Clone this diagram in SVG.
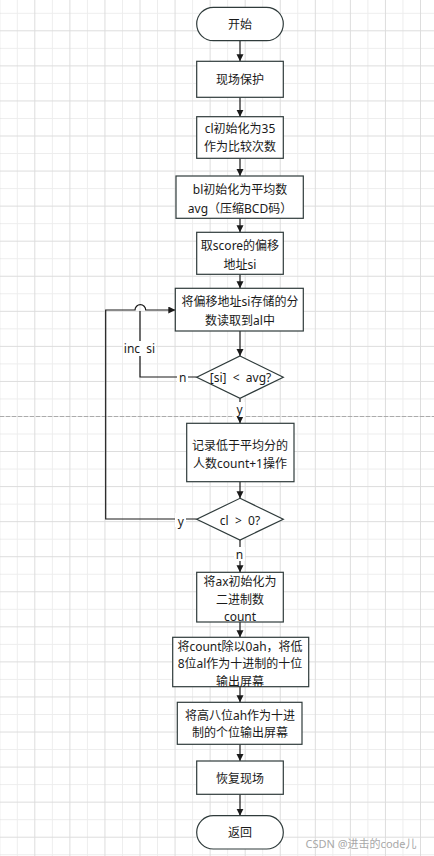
<svg xmlns="http://www.w3.org/2000/svg" width="434" height="856" viewBox="0 0 434 856">
<defs>
<pattern id="grid" patternUnits="userSpaceOnUse" x="16.8" y="12.8" width="35.06" height="35.06">
<path d="M0.5,0V35.06M0,0.5H35.06" stroke="#ededed" stroke-width="1" fill="none"/>
<path d="M18.03,0V35.06M0,18.03H35.06" stroke="#dcdcdc" stroke-width="1" fill="none"/>
</pattern>
<marker id="arr" markerUnits="userSpaceOnUse" markerWidth="10" markerHeight="10" refX="7" refY="3.5" orient="auto">
<path d="M0,0L7,3.5L0,7z" fill="#1a1a1a"/>
</marker>
<style>
.s{fill:#fff;stroke:#2f3b3b;stroke-width:1.2}
.t{font-family:"Noto Sans","Noto Sans CJK SC",sans-serif;font-size:12px;fill:#1a1a1a;text-anchor:middle;dominant-baseline:central;white-space:pre}
.c{fill:none;stroke:#1a1a1a;stroke-width:1.2}
.a{marker-end:url(#arr)}
.bg{fill:#fff}
</style>
</defs>
<rect width="434" height="856" fill="#fff"/>
<rect width="434" height="856" fill="url(#grid)"/>
<line x1="0" y1="416.5" x2="434" y2="416.5" stroke="#ababab" stroke-width="1" stroke-dasharray="4 2"/>

<g id="connectors">
<path class="c a" d="M240,40.7V61.3"/>
<path class="c a" d="M240,97.3V116.7"/>
<path class="c a" d="M240,158.3V176"/>
<path class="c a" d="M240,218.3V232.3"/>
<path class="c a" d="M240,274.3V288.3"/>
<path class="c a" d="M240,331V356"/>
<path class="c a" d="M240,398.3V423.3"/>
<path class="c a" d="M240,481.7V498.3"/>
<path class="c a" d="M240,540V572.3"/>
<path class="c a" d="M240,622V637.3"/>
<path class="c a" d="M240,686.7V702.3"/>
<path class="c a" d="M240,744.3V761"/>
<path class="c a" d="M240,794.3V815.7"/>
<path class="c" d="M196.7,377H140V311"/>
<path class="c a" d="M196.7,519H105.7V310H135A5.35,5.35 0 0 1 145.7,310H175.3"/>
<rect class="bg" x="123" y="341" width="33" height="15"/>
<text class="t" x="139.5" y="348">inc  si</text>
<rect class="bg" x="177" y="371" width="11" height="14"/>
<text class="t" x="182.7" y="377.5">n</text>
<rect class="bg" x="234" y="402" width="11" height="15"/>
<text class="t" x="239.5" y="409">y</text>
<rect class="bg" x="175" y="513" width="11" height="14"/>
<text class="t" x="180.7" y="521">y</text>
<rect class="bg" x="234" y="547" width="11" height="14"/>
<text class="t" x="239.5" y="554">n</text>
</g>

<g id="start"><rect class="s" x="196.7" y="7.3" width="86.6" height="33.4" rx="16.7"/><text class="t" x="240" y="24">开始</text></g>
<g id="protect"><rect class="s" x="196.7" y="61.3" width="86.6" height="36"/><text class="t" x="240" y="79.3">现场保护</text></g>
<g id="init-cl"><rect class="s" x="196.7" y="116.7" width="86.6" height="41.6"/><text class="t" x="240" y="128.5">cl初始化为35</text><text class="t" x="240" y="146.7">作为比较次数</text></g>
<g id="init-bl"><rect class="s" x="176" y="176" width="127.3" height="42.3"/><text class="t" x="240" y="189.5">bl初始化为平均数</text><text class="t" x="240" y="208">avg（压缩BCD码）</text></g>
<g id="get-si"><rect class="s" x="196.7" y="232.3" width="86.6" height="42"/><text class="t" x="240" y="245.5">取score的偏移</text><text class="t" x="240" y="264">地址si</text></g>
<g id="read-al"><rect class="s" x="175.3" y="288.3" width="128" height="42.7"/><text class="t" x="240" y="301.5">将偏移地址si存储的分</text><text class="t" x="240" y="320">数读取到al中</text></g>
<g id="cmp-avg"><path class="s" d="M240,356L283.3,377.2L240,398.3L196.7,377.2Z"/><text class="t" x="240.5" y="377.5">[si]  &lt;  avg?</text></g>
<g id="count"><rect class="s" x="186.7" y="423.3" width="107.3" height="58.4"/><text class="t" x="240" y="445">记录低于平均分的</text><text class="t" x="240" y="463.3">人数count+1操作</text></g>
<g id="cmp-cl"><path class="s" d="M240,498.3L283.3,519.2L240,540L196.7,519.2Z"/><text class="t" x="240" y="520.5">cl  &gt;  0?</text></g>
<g id="init-ax"><rect class="s" x="196.7" y="572.3" width="86.6" height="49.7"/><text class="t" x="240" y="581">将ax初始化为</text><text class="t" x="240" y="599">二进制数</text><text class="t" x="240" y="616.3">count</text></g>
<g id="div"><rect class="s" x="172.7" y="637.3" width="136" height="49.4"/><text class="t" x="240" y="646">将count除以0ah，将低</text><text class="t" x="240" y="663.5">8位al作为十进制的十位</text><text class="t" x="240" y="681">输出屏幕</text></g>
<g id="out-ah"><rect class="s" x="177.3" y="702.3" width="124.7" height="42"/><text class="t" x="240" y="715">将高八位ah作为十进</text><text class="t" x="240" y="732.7">制的个位输出屏幕</text></g>
<g id="restore"><rect class="s" x="196.7" y="761" width="86.6" height="33.3"/><text class="t" x="240" y="778.5">恢复现场</text></g>
<g id="ret"><rect class="s" x="196.7" y="815.7" width="86.6" height="33.3" rx="16.6"/><text class="t" x="240" y="832.5">返回</text></g>
<text x="361" y="843" font-family="'Noto Sans','Noto Sans CJK SC',sans-serif" font-size="11" fill="#a8a8a8" text-anchor="middle" dominant-baseline="central">CSDN @进击的code儿</text>
</svg>
